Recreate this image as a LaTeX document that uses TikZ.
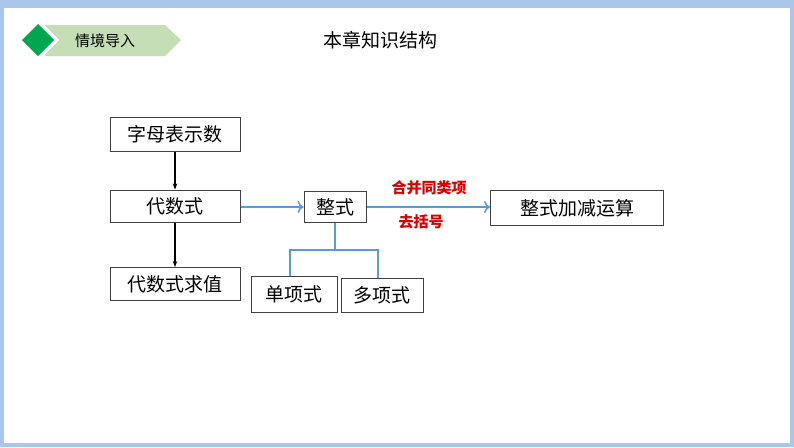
\documentclass[tikz,border=0pt]{standalone}
\usepackage{fontspec}
\setmainfont{Noto Sans CJK SC}
\usetikzlibrary{positioning,calc,arrows.meta}
\definecolor{frameblue}{HTML}{A9C7EA}
\definecolor{linkblue}{HTML}{5B9BD5}
\definecolor{tabgreen}{HTML}{C5DEB5}
\definecolor{dgreen}{HTML}{00A650}
\tikzset{box/.style={draw=black!75, line width=1pt, inner sep=0pt, font=\fontsize{19}{19}\selectfont},
	blueline/.style={draw=linkblue, line width=1.6pt},
	redlab/.style={text=red!85!black, font=\bfseries\fontsize{15}{15}\selectfont}}
\begin{document}
\begin{tikzpicture}[x=1pt,y=-1pt]
		\fill[frameblue] (0,0) rectangle (794,447);
		\fill[white] (4,8) rectangle (790,443);
		\useasboundingbox (0,0) rectangle (794,447);
		% header
		\fill[tabgreen] (45,25) -- (165,25) -- (181,40) -- (165,56) -- (45,56) -- cycle;
		\fill[white] (38,19) -- (59,40) -- (38,61) -- (17,40) -- cycle;
		\fill[dgreen] (38,24) -- (54,40) -- (38,56) -- (22,40) -- cycle;
		\node[font=\fontsize{15}{15}\selectfont] (tab) at (105,41) {情境导入};
		\node[font=\fontsize{19}{19}\selectfont] (title) at (380,40) {本章知识结构};
		% boxes
		\path	(175,134)	node[box, minimum width=130pt, minimum height=34pt] (a) {字母表示数}
			(175,206)	node[box, minimum width=130pt, minimum height=32pt] (b) {代数式}
			(175,284)	node[box, minimum width=130pt, minimum height=33pt] (c) {代数式求值}
			(335,207)	node[box, minimum width=62pt, minimum height=31pt] (d) {整式}
			(577,208)	node[box, minimum width=173pt, minimum height=35pt] (e) {整式加减运算}
			(294,294)	node[box, minimum width=86pt, minimum height=36pt] (f) {单项式}
			(382,295)	node[box, minimum width=82pt, minimum height=34pt] (g) {多项式};
		\draw[line width=2.2pt, -{Stealth[length=6pt]}] (a) -- (b);
		\draw[line width=2.2pt, -{Stealth[length=6pt]}] (b) -- (c);
		\draw[blueline, -{To[length=6pt,width=12pt]}] (b.east|-d) -- (d);
		\draw[blueline, -{To[length=6pt,width=12pt]}] (d) -- (e.west|-d);
		\node[redlab] (l1) at (429,188) {合并同类项};
		\node[redlab] (l2) at (421,222) {去括号};
		\coordinate (m) at ($(d.south)+(0,27)$);
		\draw[blueline] (d.south) -- (m);
		\draw[blueline] ($(f.north)+(-4,0)$) |- (m) -| ($(g.north)+(-4,0)$);
	\end{tikzpicture}
\end{document}
